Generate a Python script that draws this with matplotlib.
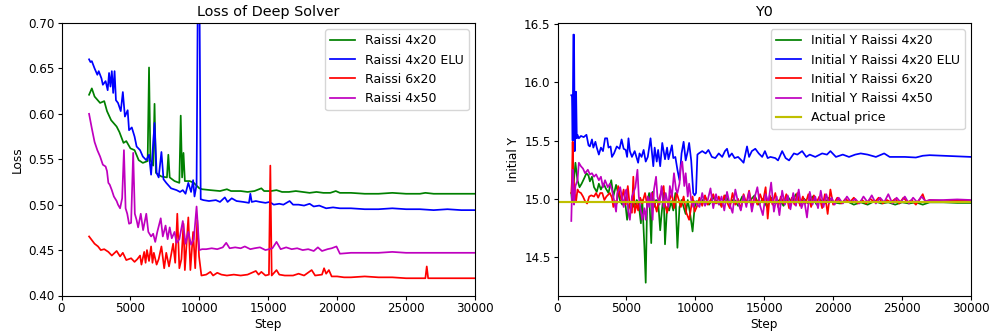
import matplotlib
matplotlib.use("Agg")
import matplotlib.pyplot as plt
import numpy as np

# ---------------- Left panel: loss ----------------
loss_g_steps = [2000, 2200, 2400, 2800, 3100, 3300, 3600, 4000, 4200, 4500,
                4700, 5000, 5300, 5600, 5900, 6250, 6350, 6450, 6650, 6750,
                6850, 7250, 7650, 7750, 7850, 8200, 8550, 8650, 8750, 8850,
                8950, 9300, 9600, 10000, 10200, 10800, 11500, 12000, 12300, 13000,
                13500, 14000, 14500, 14700, 15200, 15600, 16000, 16500, 17000, 17500,
                18000, 18500, 19000, 19500, 19900, 20200, 21000, 22000, 23000, 24000,
                25000, 26000, 26400, 27000, 28000, 29000, 30000]
loss_g = [0.621, 0.628, 0.619, 0.612, 0.614, 0.603, 0.593, 0.586, 0.580, 0.568,
          0.570, 0.562, 0.560, 0.549, 0.546, 0.548, 0.651, 0.549, 0.543, 0.611,
          0.535, 0.531, 0.530, 0.555, 0.530, 0.526, 0.524, 0.598, 0.530, 0.557,
          0.526, 0.526, 0.524, 0.518, 0.517, 0.516, 0.515, 0.517, 0.515, 0.515,
          0.514, 0.515, 0.518, 0.515, 0.515, 0.516, 0.514, 0.514, 0.515, 0.514,
          0.513, 0.514, 0.513, 0.513, 0.515, 0.513, 0.513, 0.512, 0.512, 0.513,
          0.512, 0.512, 0.513, 0.512, 0.512, 0.512, 0.512]

loss_b_steps = [2000, 2100, 2200, 2400, 2600, 2700, 2900, 3000, 3200, 3350,
                3450, 3550, 3650, 3750, 3850, 3950, 4100, 4300, 4450, 4600,
                4800, 4900, 5100, 5300, 5450, 5700, 5900, 6150, 6350, 6500,
                6750, 6900, 7050, 7250, 7400, 7600, 7950, 8350, 8600, 8800,
                9000, 9200, 9400, 9550, 9650, 9800, 9900, 10000, 10100, 10300,
                10700, 11200, 11500, 11850, 12050, 12350, 12700, 13200, 13600, 13700,
                13800, 14100, 14400, 14800, 15100, 15400, 15800, 16100, 16550, 16800,
                17200, 17600, 18000, 18300, 18700, 19200, 19700, 20200, 21000, 22000,
                23000, 24000, 25000, 26000, 27000, 28000, 29000, 30000]
loss_b = [0.660, 0.657, 0.658, 0.650, 0.643, 0.647, 0.639, 0.632, 0.636, 0.626,
          0.645, 0.630, 0.647, 0.623, 0.647, 0.615, 0.612, 0.603, 0.624, 0.597,
          0.604, 0.582, 0.585, 0.575, 0.564, 0.560, 0.553, 0.549, 0.555, 0.533,
          0.590, 0.535, 0.530, 0.558, 0.528, 0.524, 0.518, 0.516, 0.514, 0.516,
          0.512, 0.524, 0.514, 0.527, 0.509, 0.522, 0.760, 0.760, 0.506, 0.505,
          0.504, 0.505, 0.503, 0.508, 0.503, 0.507, 0.504, 0.503, 0.502, 0.512,
          0.503, 0.504, 0.503, 0.502, 0.503, 0.500, 0.501, 0.500, 0.504, 0.500,
          0.500, 0.499, 0.501, 0.498, 0.499, 0.496, 0.497, 0.496, 0.496, 0.495,
          0.495, 0.496, 0.495, 0.495, 0.494, 0.495, 0.494, 0.494]

loss_r_steps = [2000, 2200, 2400, 2650, 2850, 3100, 3400, 3650, 4000, 4250,
                4450, 4700, 5050, 5300, 5500, 5700, 5800, 6000, 6100, 6200,
                6350, 6500, 6600, 6700, 6900, 7050, 7250, 7450, 7600, 7800,
                8100, 8250, 8400, 8550, 8700, 8850, 8950, 9200, 9350, 9550,
                9700, 9850, 9980, 10150, 10500, 10800, 11000, 11300, 11600, 12000,
                12500, 13000, 13500, 14100, 14300, 14500, 14800, 15050, 15150, 15250,
                15600, 15800, 16200, 16800, 17200, 17600, 18150, 18400, 18900, 19050,
                19200, 19400, 19600, 20000, 20500, 21000, 22000, 23000, 24000, 25000,
                26000, 26400, 26500, 26600, 27000, 28000, 29000, 30000]
loss_r = [0.465, 0.461, 0.457, 0.454, 0.450, 0.451, 0.448, 0.444, 0.449, 0.443,
          0.447, 0.439, 0.441, 0.437, 0.440, 0.444, 0.434, 0.448, 0.436, 0.450,
          0.438, 0.454, 0.436, 0.447, 0.434, 0.440, 0.454, 0.430, 0.447, 0.432,
          0.457, 0.436, 0.490, 0.430, 0.440, 0.479, 0.428, 0.486, 0.428, 0.470,
          0.430, 0.483, 0.443, 0.422, 0.423, 0.426, 0.422, 0.425, 0.423, 0.422,
          0.423, 0.422, 0.423, 0.427, 0.423, 0.426, 0.422, 0.423, 0.543, 0.422,
          0.428, 0.423, 0.422, 0.422, 0.424, 0.422, 0.428, 0.422, 0.423, 0.430,
          0.424, 0.428, 0.421, 0.421, 0.420, 0.420, 0.421, 0.420, 0.420, 0.419,
          0.419, 0.419, 0.432, 0.419, 0.419, 0.419, 0.419, 0.419]

loss_m_steps = [2000, 2200, 2400, 2600, 2800, 3000, 3200, 3300, 3400, 3500,
                3650, 3800, 4000, 4100, 4250, 4400, 4530, 4650, 4770, 4900,
                5050, 5200, 5320, 5450, 5560, 5750, 5920, 6150, 6300, 6500,
                6650, 6800, 6950, 7200, 7350, 7550, 7700, 7850, 8000, 8200,
                8350, 8550, 8800, 9000, 9200, 9400, 9600, 9800, 10000, 10200,
                10500, 10900, 11300, 11700, 11950, 12200, 12600, 13000, 13300, 13700,
                14000, 14400, 14800, 15300, 15600, 15900, 16300, 16700, 17100, 17500,
                17900, 18300, 18600, 18900, 19300, 19600, 19950, 20200, 21000, 22000,
                23000, 24000, 25000, 26000, 27000, 28000, 29000, 30000]
loss_m = [0.600, 0.584, 0.569, 0.560, 0.553, 0.544, 0.542, 0.537, 0.524, 0.522,
          0.516, 0.509, 0.504, 0.500, 0.496, 0.507, 0.560, 0.496, 0.490, 0.479,
          0.480, 0.557, 0.490, 0.483, 0.475, 0.490, 0.472, 0.490, 0.470, 0.465,
          0.468, 0.459, 0.470, 0.485, 0.465, 0.477, 0.462, 0.475, 0.463, 0.470,
          0.458, 0.462, 0.482, 0.457, 0.470, 0.456, 0.462, 0.498, 0.450, 0.451,
          0.451, 0.452, 0.451, 0.453, 0.458, 0.452, 0.453, 0.452, 0.454, 0.451,
          0.452, 0.453, 0.450, 0.452, 0.459, 0.451, 0.453, 0.451, 0.452, 0.450,
          0.451, 0.449, 0.453, 0.449, 0.451, 0.452, 0.454, 0.446, 0.447, 0.447,
          0.447, 0.448, 0.447, 0.447, 0.447, 0.447, 0.447, 0.447]

# ---------------- Right panel: initial Y ----------------
y0_b_steps = [1000, 1050, 1100, 1150, 1200, 1250, 1300, 1350, 1400, 1450,
              1550, 1700, 1900, 2100, 2250, 2350, 2500, 2600, 2750, 2850,
              3000, 3150, 3300, 3450, 3600, 3700, 3850, 3950, 4100, 4300,
              4500, 4650, 4800, 4950, 5050, 5150, 5250, 5400, 5600, 5850,
              5950, 6100, 6250, 6400, 6550, 6750, 6950, 7050, 7200, 7300,
              7450, 7600, 7800, 7950, 8050, 8300, 8400, 8550, 8700, 8850,
              9000, 9150, 9300, 9450, 9550, 9700, 9850, 9950, 10050, 10150,
              10250, 10500, 10750, 10950, 11200, 11450, 11700, 11950, 12150, 12300,
              12450, 12650, 12850, 13100, 13350, 13500, 13750, 13900, 14100, 14350,
              14600, 14850, 15050, 15250, 15450, 15800, 16000, 16300, 16550, 16800,
              17150, 17400, 17750, 18050, 18300, 18700, 19200, 19550, 19800, 20200,
              20700, 21150, 21600, 22000, 22500, 23100, 23700, 24100, 25200, 26000,
              26500, 27000, 28000, 29000, 30000]
y0_b = [15.89, 15.89, 15.50, 16.41, 16.41, 15.41, 15.91, 15.92, 15.52, 15.55,
        15.52, 15.54, 15.53, 15.55, 15.46, 15.45, 15.51, 15.44, 15.49, 15.44,
        15.38, 15.44, 15.41, 15.52, 15.52, 15.44, 15.45, 15.36, 15.39, 15.45,
        15.43, 15.51, 15.43, 15.42, 15.36, 15.52, 15.41, 15.36, 15.41, 15.31,
        15.39, 15.36, 15.42, 15.32, 15.36, 15.52, 15.28, 15.44, 15.32, 15.42,
        15.28, 15.48, 15.34, 15.44, 15.34, 15.46, 15.35, 15.36, 15.25, 15.16,
        15.39, 15.49, 15.33, 15.41, 15.48, 15.33, 15.05, 15.03, 15.05, 15.38,
        15.39, 15.41, 15.39, 15.42, 15.36, 15.35, 15.39, 15.36, 15.41, 15.43,
        15.36, 15.39, 15.35, 15.36, 15.33, 15.31, 15.45, 15.36, 15.41, 15.43,
        15.39, 15.36, 15.41, 15.35, 15.36, 15.35, 15.33, 15.41, 15.35, 15.33,
        15.39, 15.38, 15.41, 15.36, 15.38, 15.36, 15.39, 15.38, 15.41, 15.36,
        15.38, 15.36, 15.38, 15.39, 15.38, 15.36, 15.39, 15.36, 15.36, 15.355,
        15.37, 15.375, 15.37, 15.365, 15.36]

y0_g_steps = [1000, 1050, 1150, 1300, 1450, 1600, 1750, 1950, 2100, 2250,
              2350, 2500, 2650, 2850, 3000, 3150, 3350, 3500, 3700, 3900,
              4050, 4250, 4400, 4550, 4700, 4850, 4950, 5050, 5200, 5400,
              5550, 5750, 5900, 6050, 6150, 6300, 6400, 6500, 6650, 6800,
              6900, 7000, 7150, 7300, 7450, 7550, 7700, 7800, 7950, 8100,
              8250, 8400, 8550, 8700, 8850, 9000, 9150, 9300, 9450, 9600,
              9800, 9950, 10100, 10400, 10700, 11000, 11300, 11600, 11900, 12200,
              12500, 12800, 13100, 13400, 13700, 14000, 14300, 14600, 14900, 15200,
              15500, 15800, 16100, 16400, 16700, 17000, 17300, 17600, 17900, 18200,
              18500, 18800, 19100, 19400, 19700, 20000, 20500, 21000, 21500, 22000,
              22500, 23000, 23500, 24000, 24500, 25000, 25500, 26000, 26500, 27000,
              28000, 29000, 30000]
y0_g = [15.05, 14.98, 15.10, 15.31, 15.16, 15.10, 15.13, 15.18, 15.22, 15.20,
        15.15, 15.19, 15.10, 15.06, 15.13, 15.08, 15.13, 15.09, 15.05, 15.16,
        15.02, 15.12, 15.05, 14.98, 14.95, 14.99, 14.93, 14.82, 14.95, 14.98,
        14.93, 14.99, 14.95, 14.79, 14.99, 14.60, 14.28, 14.96, 15.05, 14.62,
        15.06, 14.93, 14.99, 14.98, 14.73, 14.87, 15.05, 14.61, 14.93, 14.90,
        14.98, 14.90, 15.05, 14.58, 14.93, 14.99, 14.93, 14.87, 14.99, 14.89,
        14.72, 14.93, 14.98, 14.96, 15.02, 14.95, 15.01, 14.97, 14.94, 15.03,
        14.96, 15.00, 14.94, 15.02, 14.96, 14.99, 15.03, 14.95, 15.00, 14.93,
        15.01, 14.96, 14.99, 14.94, 15.02, 14.97, 15.04, 14.95, 15.00, 14.96,
        15.02, 14.95, 14.99, 14.96, 15.01, 14.97, 14.96, 14.98, 14.95, 14.97,
        14.95, 14.98, 14.96, 14.97, 14.95, 14.97, 14.96, 14.97, 14.95, 14.97,
        14.97, 14.965, 14.965]

y0_r_steps = [1000, 1050, 1100, 1150, 1250, 1350, 1450, 1550, 1700, 1850,
              2000, 2150, 2300, 2450, 2650, 2800, 2950, 3100, 3250, 3400,
              3550, 3800, 3950, 4050, 4200, 4300, 4400, 4550, 4650, 4800,
              4950, 5100, 5250, 5400, 5500, 5600, 5750, 5850, 6000, 6150,
              6350, 6500, 6700, 6850, 7050, 7200, 7350, 7500, 7700, 7800,
              7950, 8100, 8300, 8450, 8650, 8800, 8950, 9150, 9350, 9550,
              9700, 9800, 9950, 10100, 10300, 10500, 10700, 10900, 11100, 11300,
              11500, 11700, 11900, 12100, 12300, 12500, 12700, 12900, 13100, 13300,
              13500, 13700, 13900, 14100, 14300, 14500, 14700, 14900, 15100, 15250,
              15400, 15600, 15800, 16000, 16200, 16400, 16600, 16800, 17000, 17200,
              17400, 17600, 17800, 18000, 18200, 18400, 18600, 18800, 19000, 19200,
              19400, 19600, 19800, 20000, 20300, 20600, 20900, 21200, 21500, 21800,
              22100, 22400, 22700, 23000, 23300, 23600, 23900, 24200, 24500, 24800,
              25100, 25400, 25700, 26000, 26300, 26500, 26700, 27000, 28000, 29000,
              30000]
y0_r = [15.05, 15.16, 15.49, 15.19, 15.05, 14.98, 15.08, 15.06, 15.05, 15.02,
        14.98, 14.96, 15.02, 15.03, 15.02, 15.05, 15.01, 15.05, 15.05, 14.99,
        15.02, 15.05, 15.01, 14.93, 14.98, 14.96, 15.11, 15.02, 14.99, 15.08,
        14.95, 15.11, 14.93, 14.88, 15.19, 14.88, 14.96, 14.90, 15.01, 14.96,
        15.05, 14.95, 14.99, 15.05, 14.96, 14.89, 14.99, 15.05, 15.11, 14.95,
        14.88, 14.98, 15.05, 14.92, 15.05, 14.99, 14.93, 15.02, 14.88, 14.82,
        14.93, 15.02, 14.89, 14.93, 15.01, 14.94, 15.03, 14.95, 14.99, 15.04,
        14.96, 15.02, 14.93, 15.03, 14.97, 14.92, 15.05, 14.95, 15.00, 14.91,
        15.04, 14.96, 15.07, 14.94, 15.02, 14.95, 15.04, 14.97, 15.10, 14.83,
        15.03, 14.95, 15.05, 14.93, 15.02, 14.96, 15.04, 14.92, 15.01, 14.95,
        15.05, 14.94, 15.02, 14.96, 15.04, 14.93, 15.03, 14.97, 15.02, 14.92,
        15.04, 14.87, 15.08, 14.95, 15.01, 14.96, 15.00, 14.97, 15.01, 14.96,
        14.99, 14.96, 15.00, 14.97, 15.01, 14.96, 14.99, 14.97, 15.00, 14.96,
        15.01, 14.97, 14.99, 14.95, 15.00, 15.04, 14.97, 14.99, 14.98, 14.985,
        14.985]

y0_m_steps = [1000, 1050, 1100, 1150, 1200, 1300, 1450, 1550, 1700, 1850,
              2000, 2200, 2350, 2500, 2650, 2800, 3000, 3150, 3300, 3450,
              3650, 3800, 3950, 4100, 4250, 4350, 4550, 4650, 4800, 4900,
              5000, 5150, 5250, 5400, 5500, 5650, 5800, 5900, 6050, 6150,
              6300, 6400, 6550, 6650, 6800, 6900, 7000, 7150, 7250, 7400,
              7550, 7700, 7850, 8050, 8150, 8300, 8450, 8600, 8700, 8850,
              8950, 9050, 9200, 9300, 9450, 9550, 9700, 9850, 9950, 10100,
              10300, 10500, 10700, 10900, 11100, 11300, 11500, 11700, 11900, 12100,
              12300, 12500, 12700, 12900, 13100, 13300, 13500, 13700, 13900, 14100,
              14300, 14500, 14700, 14900, 15100, 15300, 15500, 15700, 15900, 16100,
              16300, 16500, 16700, 16900, 17100, 17300, 17500, 17700, 17900, 18100,
              18300, 18500, 18700, 18900, 19100, 19300, 19500, 19700, 19900, 20100,
              20400, 20700, 21000, 21300, 21600, 21900, 22200, 22500, 22800, 23100,
              23400, 23700, 24000, 24300, 24600, 24900, 25200, 25500, 25800, 26100,
              26400, 26700, 27000, 28000, 29000, 30000]
y0_m = [14.81, 15.05, 15.25, 15.05, 14.95, 15.11, 15.16, 15.31, 15.28, 15.26,
        15.22, 15.25, 15.21, 15.22, 15.19, 15.21, 15.16, 15.19, 15.10, 15.16,
        15.10, 15.13, 15.08, 14.99, 14.89, 15.05, 15.10, 15.03, 14.93, 15.05,
        15.08, 14.88, 14.82, 15.02, 15.05, 15.10, 15.25, 15.02, 14.89, 14.82,
        14.92, 14.82, 15.02, 14.93, 15.05, 14.82, 15.08, 15.19, 15.02, 14.95,
        15.11, 14.93, 15.05, 14.93, 15.11, 15.02, 15.22, 15.08, 15.05, 15.13,
        15.28, 15.32, 15.11, 15.22, 15.02, 15.13, 14.99, 14.93, 14.98, 14.96,
        14.93, 15.05, 14.94, 14.99, 15.09, 14.92, 15.04, 14.95, 15.02, 14.90,
        15.06, 14.95, 14.88, 15.08, 14.97, 14.90, 15.03, 14.93, 15.06, 14.89,
        15.01, 15.10, 14.94, 14.86, 15.04, 14.97, 15.14, 14.89, 15.02, 14.86,
        15.07, 14.95, 15.03, 14.91, 15.05, 14.94, 15.08, 14.92, 14.99, 14.84,
        15.06, 14.95, 15.02, 14.92, 15.07, 14.93, 15.04, 14.96, 15.01, 14.95,
        15.01, 14.96, 15.02, 14.97, 15.00, 14.96, 15.02, 14.97, 15.03, 14.96,
        15.01, 14.97, 15.04, 14.96, 15.01, 14.97, 15.02, 14.96, 15.01, 14.97,
        15.02, 14.98, 14.99, 14.99, 14.995, 14.99]

actual_price = 14.975

loss_labels = ["Raissi 4x20", "Raissi 4x20 ELU", "Raissi 6x20", "Raissi 4x50"]
y0_labels = ["Initial Y Raissi 4x20", "Initial Y Raissi 4x20 ELU",
             "Initial Y Raissi 6x20", "Initial Y Raissi 4x50", "Actual price"]
colors = ["g", "b", "r", "m"]

TFS = 8.6   # tick labels
LFS = 8.7   # axis labels
LEG_FS = 9.0
TITLE_FS = 10.4
LW = 1.25

fig = plt.figure(figsize=(9.93, 3.36), dpi=100)
ax1 = fig.add_axes([61.5 / 993, 1 - 295.5 / 336, (475 - 61.5) / 993, (295.5 - 23.0) / 336])
ax2 = fig.add_axes([557.5 / 993, 1 - 295.5 / 336, (971 - 557.5) / 993, (295.5 - 23.0) / 336])

loss_series = [(loss_g_steps, loss_g), (loss_b_steps, loss_b),
               (loss_r_steps, loss_r), (loss_m_steps, loss_m)]
for (s, v), c, lab in zip(loss_series, colors, loss_labels):
    ax1.plot(s, v, color=c, lw=LW, label=lab)
ax1.set_xlim(0, 30000)
ax1.set_ylim(0.40, 0.70)
ax1.set_yticks(np.arange(0.40, 0.701, 0.05))
ax1.yaxis.set_major_formatter(matplotlib.ticker.FormatStrFormatter("%.2f"))
ax1.set_xticks([0, 5000, 10000, 15000, 20000, 25000, 30000])
ax1.set_title("Loss of Deep Solver", fontsize=TITLE_FS, pad=5)
ax1.set_xlabel("Step", fontsize=LFS, labelpad=2)
ax1.set_ylabel("Loss", fontsize=LFS, labelpad=3)
ax1.tick_params(labelsize=TFS, length=3, pad=2)
ax1.legend(loc="upper right", fontsize=LEG_FS)

y0_series = [(y0_g_steps, y0_g), (y0_b_steps, y0_b), (y0_r_steps, y0_r), (y0_m_steps, y0_m)]
for (s, v), c, lab in zip(y0_series, colors, y0_labels[:4]):
    ax2.plot(s, v, color=c, lw=LW, label=lab)
ax2.axhline(actual_price, color="y", lw=LW + 0.3, label=y0_labels[4])
ax2.set_xlim(0, 30000)
ax2.set_ylim(14.17, 16.51)
ax2.set_yticks([14.5, 15.0, 15.5, 16.0, 16.5])
ax2.set_xticks([0, 5000, 10000, 15000, 20000, 25000, 30000])
ax2.set_title("Y0", fontsize=TITLE_FS, pad=5)
ax2.set_xlabel("Step", fontsize=LFS, labelpad=2)
ax2.set_ylabel("Initial Y", fontsize=LFS, labelpad=3)
ax2.tick_params(labelsize=TFS, length=3, pad=2)
ax2.legend(loc="upper right", fontsize=LEG_FS)

fig.savefig("out.png", dpi=100)
